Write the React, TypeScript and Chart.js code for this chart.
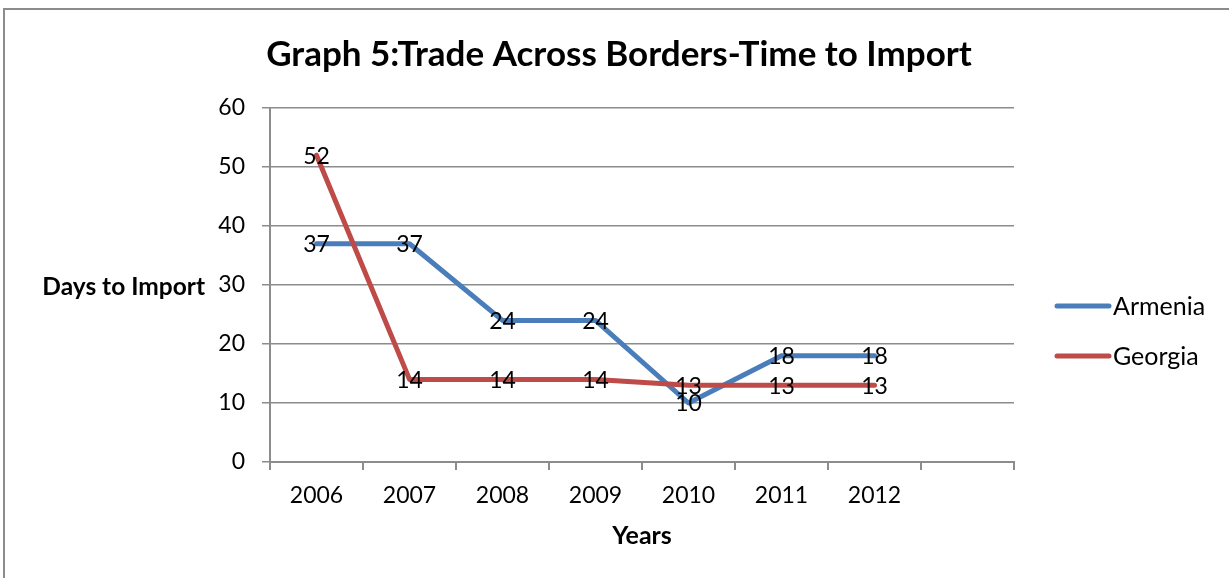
import React, { useEffect, useRef } from "react";
import { Chart, registerables } from "chart.js";

Chart.register(...registerables);

const years = ["2006", "2007", "2008", "2009", "2010", "2011", "2012", ""];
const armenia = [37, 37, 24, 24, 10, 18, 18];
const georgia = [52, 14, 14, 14, 13, 13, 13];
const yTicks = [0, 10, 20, 30, 40, 50, 60];

const FONT = "Lato, 'Open Sans', sans-serif";
const BLUE = "#4A7EBB";
const RED = "#BE4B48";
const GRID = "#8C8C8C";

const decorations = {
  id: "decorations",
  afterDatasetsDraw(chart: any) {
    const ctx = chart.ctx;
    const area = chart.chartArea;
    ctx.save();
    // value labels centred on each point
    ctx.fillStyle = "#000";
    ctx.font = `23px ${FONT}`;
    ctx.textAlign = "center";
    ctx.textBaseline = "middle";
    chart.data.datasets.forEach((ds: any, i: number) => {
      const meta = chart.getDatasetMeta(i);
      meta.data.forEach((pt: any, j: number) => {
        const v = ds.data[j];
        if (v == null) return;
        ctx.fillText(String(v), pt.x, pt.y + 1);
      });
    });

    // title
    ctx.font = `bold 35px ${FONT}`;
    ctx.textBaseline = "alphabetic";
    ctx.fillText("Graph 5:Trade Across Borders-Time to Import", 619, 66);

    // axis titles
    ctx.font = `bold 24.5px ${FONT}`;
    ctx.textBaseline = "middle";
    ctx.textAlign = "right";
    ctx.fillText("Days to Import", 205, (area.top + area.bottom) / 2 + 2);
    ctx.font = `bold 25px ${FONT}`;
    ctx.textAlign = "center";
    ctx.fillText("Years", (area.left + area.right) / 2, 536);

    // legend
    const items = [
      { label: "Armenia", color: BLUE, y: 306 },
      { label: "Georgia", color: RED, y: 356 },
    ];
    ctx.textAlign = "left";
    ctx.font = `25px ${FONT}`;
    items.forEach((it) => {
      ctx.strokeStyle = it.color;
      ctx.lineWidth = 5;
      ctx.lineCap = "round";
      ctx.beginPath();
      ctx.moveTo(1057, it.y);
      ctx.lineTo(1109, it.y);
      ctx.stroke();
      ctx.fillStyle = "#000";
      ctx.fillText(it.label, 1113, it.y + 1);
    });
    ctx.restore();
  },
};

export default function App() {
  const ref = useRef<HTMLCanvasElement | null>(null);

  useEffect(() => {
    if (!ref.current) return;
    const chart = new Chart(ref.current, {
      type: "line",
      data: {
        labels: years,
        datasets: [
          {
            label: "Armenia",
            data: armenia,
            borderColor: BLUE,
            backgroundColor: BLUE,
            borderWidth: 5,
            pointRadius: 0,
            tension: 0,
            borderCapStyle: "round",
            borderJoinStyle: "round",
            order: 1,
          },
          {
            label: "Georgia",
            data: georgia,
            borderColor: RED,
            backgroundColor: RED,
            borderWidth: 5,
            pointRadius: 0,
            tension: 0,
            borderCapStyle: "round",
            borderJoinStyle: "round",
            order: 0,
          },
        ],
      },
      options: {
        responsive: false,
        animation: false,
        events: [],
        layout: { padding: { left: 0, top: 108, right: 215, bottom: 0 } },
        plugins: {
          legend: { display: false },
          tooltip: { enabled: false },
          title: { display: false },
        },
        scales: {
          x: {
            type: "category",
            offset: true,
            grid: {
              offset: true,
              drawOnChartArea: false,
              drawTicks: true,
              tickLength: 8,
              color: GRID,
              lineWidth: 2,
            },
            border: { display: true, color: GRID, width: 2 },
            ticks: {
              color: "#000",
              font: { family: FONT, size: 23 },
              padding: 12,
              maxRotation: 0,
              autoSkip: false,
            },
            afterFit(scale: any) {
              scale.height = 116;
            },
          },
          y: {
            min: 0,
            max: 60,
            afterBuildTicks(scale: any) {
              scale.ticks = yTicks.map((v) => ({ value: v }));
            },
            grid: {
              drawTicks: true,
              tickLength: 8,
              color: GRID,
              lineWidth: 1.5,
            },
            border: { display: true, color: GRID, width: 2 },
            ticks: {
              color: "#000",
              font: { family: FONT, size: 23 },
              padding: 17,
            },
            afterFit(scale: any) {
              scale.width = 270;
            },
          },
        },
      },
      plugins: [decorations],
    });
    return () => chart.destroy();
  }, []);

  return (
    <div
      style={{
        position: "fixed",
        left: 0,
        top: 0,
        width: 1229,
        height: 578,
        overflow: "hidden",
        background: "#fff",
      }}
    >
      <canvas ref={ref} width={1229} height={578} style={{ position: "absolute", left: 0, top: 0 }} />
      <div
        style={{
          position: "absolute",
          left: 3,
          top: 8,
          width: 1400,
          height: 800,
          border: "2px solid #8C8C8C",
          pointerEvents: "none",
        }}
      />
    </div>
  );
}
